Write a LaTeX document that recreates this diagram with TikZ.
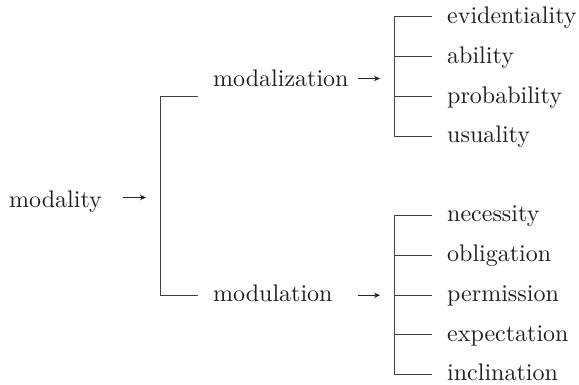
\documentclass[tikz,border=0pt]{standalone}
\usepackage{fontspec}
\setmainfont{lmroman10-regular.otf}
\usetikzlibrary{arrows.meta}
\begin{document}
\begin{tikzpicture}[x=1pt,y=-1pt,
  lbl/.style={anchor=base west,inner sep=0pt,font=\fontsize{24}{28}\selectfont,text=black!88},
  brk/.style={draw=black!75,line width=1pt},
  arr/.style={draw=black!85,line width=1.1pt,-{Stealth[length=6pt,width=5.5pt]}}]
\useasboundingbox (0,0) rectangle (579,384);
% main labels
\node[lbl] (modality) at (9,207) {modality};
\node[lbl] (modalization) at (213,86) {modalization};
\node[lbl] (modulation) at (213,301.5) {modulation};
% arrows
\coordinate (a0s) at (123,197.5); \coordinate (a0e) at (146,197.5);
\coordinate (a1s) at (358,78.5);  \coordinate (a1e) at (380,78.5);
\coordinate (a2s) at (358,295.3); \coordinate (a2e) at (380,295.3);
\draw[arr] (a0s) -- (a0e);
\draw[arr] (a1s) -- (a1e);
\draw[arr] (a2s) -- (a2e);
% first bracket
\coordinate (b0t) at (160,96.7); \coordinate (b0b) at (160,295);
\coordinate (b0te) at (198,96.7); \coordinate (b0be) at (198,295);
\draw[brk] (b0te) -- (b0t) -- (b0b) -- (b0be);
% upper bracket
\foreach \n/\y/\t in {u1/16.7/evidentiality,u2/56.7/ability,u3/96.7/probability,u4/136/usuality}{
  \coordinate (\n s) at (394.3,\y);
  \coordinate (\n e) at (432,\y);
  \node[lbl] (\n) at (447,\y+6.5) {\t};
  \draw[brk] (\n s) -- (\n e);
}
\draw[brk] (u1s) -- (u4s);
% lower bracket
\foreach \n/\y/\t in {l1/215.3/necessity,l2/255/obligation,l3/295/permission,l4/334.7/expectation,l5/374/inclination}{
  \coordinate (\n s) at (394.3,\y);
  \coordinate (\n e) at (432,\y);
  \node[lbl] (\n) at (447,\y+6.5) {\t};
  \draw[brk] (\n s) -- (\n e);
}
\draw[brk] (l1s) -- (l5s);
\end{tikzpicture}
\end{document}
